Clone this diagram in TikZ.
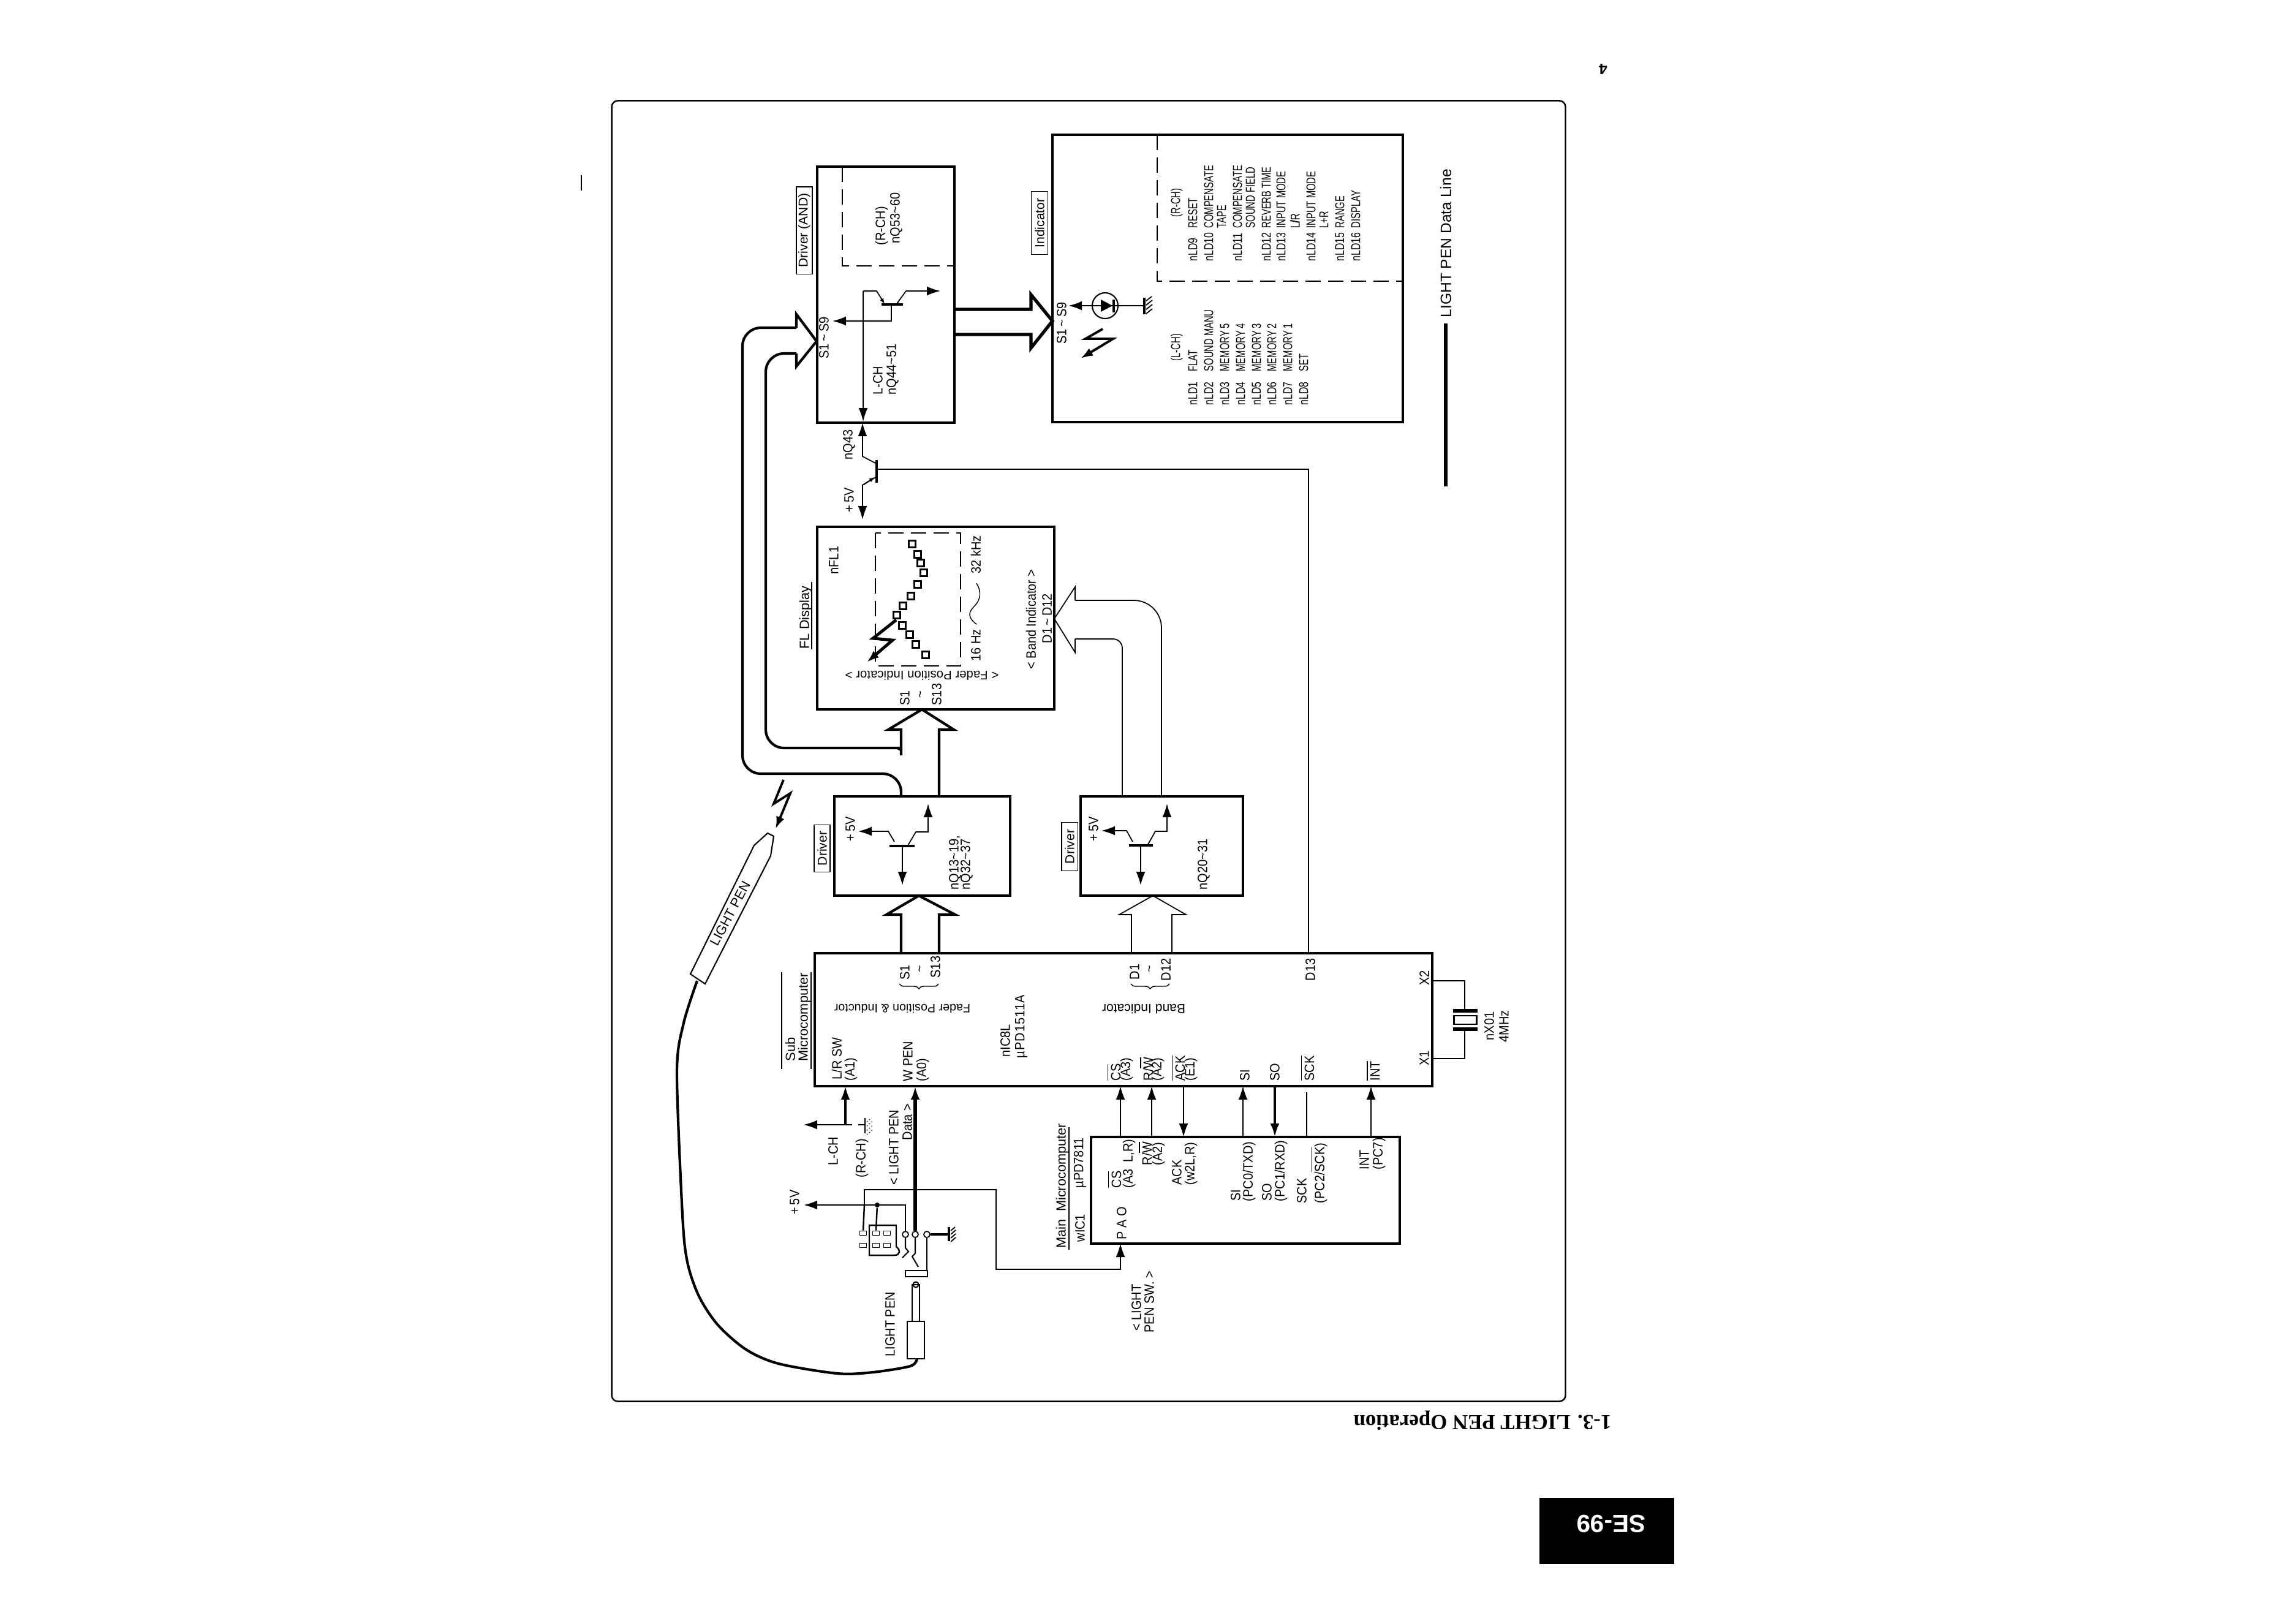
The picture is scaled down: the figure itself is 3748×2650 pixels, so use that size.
\documentclass[tikz,border=0pt]{standalone}
\usepackage{fontspec}
\setmainfont[FakeStretch=0.9]{Liberation Sans}
\usetikzlibrary{arrows.meta,decorations.pathreplacing}
\newfontfamily\titlefont{Liberation Serif}
\newfontfamily\widefont{Liberation Sans}
\newfontfamily\tablefont[FakeStretch=0.7]{Liberation Sans}
\newfontfamily\codefont[FakeStretch=0.75]{Liberation Sans}
\newcommand{\ovl}[1]{$\overline{\mbox{#1}}$}
\newcommand{\tld}{\textasciitilde}
\tikzset{
  lbl/.style={rotate=90,anchor=west,inner sep=0pt,font=\fontsize{6.3}{7}\selectfont},
  headlbl/.style={lbl,font=\widefont\fontsize{6.2}{7}\selectfont},
  tablbl/.style={lbl,font=\tablefont\fontsize{6}{7}\selectfont},
  codelbl/.style={lbl,font=\codefont\fontsize{6}{7}\selectfont},
  lblflip/.style={rotate=180,inner sep=0pt,font=\widefont\fontsize{5.8}{7}\selectfont},
  tag/.style={draw,line width=0.3pt,rotate=90,inner sep=0pt,outer sep=0pt,font=\widefont\fontsize{6}{7}\selectfont},
  box/.style={shape=rectangle,draw=black,line width=1.1pt,outer sep=0pt,inner sep=0pt},
  thin line/.style={line width=0.45pt},
  sig/.style={line width=0.5pt,-{Latex[length=0.22cm,width=0.15cm]}},
  sigbold/.style={line width=1pt,-{Latex[length=0.22cm,width=0.15cm]}},
  bolt/.style={line width=1.1pt,-{Latex[length=0.2cm,width=0.14cm]}},
  pipe/.style={line width=1.2pt,line join=miter,rounded corners=0.3cm},
  pipethin/.style={line width=0.5pt,rounded corners=0.3cm},
  dash box/.style={line width=0.55pt,dash pattern=on 0.25cm off 0.12cm},
  seg/.style={draw,line width=0.6pt,minimum size=0.11cm,inner sep=0pt},
  pad/.style={draw,line width=0.5pt,minimum width=0.11cm,minimum height=0.07cm,inner sep=0pt},
  contact/.style={draw,circle,line width=0.5pt,minimum size=0.1cm,inner sep=0pt},
}
\begin{document}
\begin{tikzpicture}[x=0.01cm,y=-0.01cm]
    \useasboundingbox (0,0) rectangle (3748,2650);

    \node[box,line width=0.7pt,minimum width=15.56cm,minimum height=21.22cm,rounded corners=0.1cm] (Frame) at (1777,1226) {};
    \node[box] (DriverAnd) at (1446,481) [minimum width=2.24cm,minimum height=4.18cm] {};
    \node[box] (Indicator) at (2004,454.5) [minimum width=5.72cm,minimum height=4.69cm] {};
    \node[box] (FLDisplay) at (1527.5,1009) [minimum width=3.87cm,minimum height=2.98cm] {};
    \node[box] (DriverFader) at (1505.5,1381) [minimum width=2.87cm,minimum height=1.62cm] {};
    \node[box] (DriverBand) at (1896.5,1381) [minimum width=2.65cm,minimum height=1.62cm] {};
    \node[box] (SubMicro) at (1834,1664.5) [minimum width=10.08cm,minimum height=2.17cm] {};
    \node[box] (MainMicro) at (2033,1943) [minimum width=5.04cm,minimum height=1.74cm] {};

    % tags beside the boxes
    \node[tag,minimum width=1.42cm,minimum height=0.26cm] (TagDriverAnd) at (1313,376) {Driver (AND)};
    \node[tag,minimum width=1.03cm,minimum height=0.27cm] (TagIndicator) at (1697,364) {Indicator};
    \node[tag,minimum width=0.77cm,minimum height=0.26cm] (TagDriverFader) at (1342,1385) {Driver};
    \node[tag,minimum width=0.79cm,minimum height=0.26cm] (TagDriverBand) at (1746,1382) {Driver};
    \node[headlbl] (TagFL) at (1315,1060) {FL Display};
    \draw[thin line] (1325,950) -- (1325,1060);
    \node[headlbl] (TagSub) at (1290,1733) {Sub};
    \node[headlbl] (TagSubB) at (1313,1733) {Microcomputer};
    \draw[thin line] (1276,1587) -- (1276,1745);
    \draw[thin line] (1324,1587) -- (1324,1745);
    \node[headlbl] (TagMain) at (1734,2038) {Main\ \ Microcomputer};
    \draw[thin line] (1745,1840) -- (1745,2040);

    % Driver (AND)
    \draw[dash box] (1375,272) -- (1375,434) -- (1558,434);
    \node[lbl] (RCHa) at (1439,401) {(R-CH)};
    \node[lbl] (nQ53) at (1463,398) {nQ53\tld 60};
    \node[lbl] (LCHa) at (1433,645) {L-CH};
    \node[lbl] (nQ44) at (1457,645) {nQ44\tld 51};
    \node[lbl] (S1S9a) at (1345,586) {S1\,\tld\,S9};
    \coordinate (BarL) at (1439,497);
    \coordinate (BarR) at (1474,497);
    \draw[line width=1.3pt] (BarL) -- (BarR);
    \draw[sig] (1409,475) -- (1409,688);
    \draw[sig,-{Latex[length=0.09cm,width=0.07cm]}] (1409,475) -- (1431,475) -- (1444,496);
    \draw[sig] (1463,497) -- (1479,475) -- (1535,475);
    \draw[sig] (1455,497) -- (1455,524) -- (1359,524);

    % nQ43
    \node[lbl] (nQ43) at (1386,751) {nQ43};
    \node[lbl] (PlusA) at (1386,837) {+\,5V};
    \coordinate (BaseT) at (1431,751);
    \coordinate (BaseB) at (1431,788);
    \coordinate (BaseM) at (1431,766);
    \draw[line width=1.1pt] (BaseT) -- (BaseB);
    \draw[sig] (1431,757) -- (1408,745) -- (1408,0 |- DriverAnd.south);
    \draw[sig] (1431,778) -- (1408,792) -- (1408,848);
    \draw[sig,-{Latex[length=0.09cm,width=0.07cm]}] (1408,792) -- (1428,779);
    \draw[line width=0.5pt] (2136,0 |- SubMicro.north) -- (2136,766) -- (BaseM);

    % Indicator
    \draw[dash box] (1889,220) -- (1889,459) -- (2290,459);
    \node[lbl] (S1S9b) at (1733,562) {S1\,\tld\,S9};
    \node[draw,circle,line width=0.6pt,minimum size=0.42cm,inner sep=0pt] (LedRing) at (1804,499) {};
    \coordinate (LedGnd) at (1868,499);
    \draw[sig,line width=0.8pt] (LedGnd) -- (1744,499);
    \fill (1797,489) -- (1816,499) -- (1797,509) -- cycle;
    \draw[line width=1pt] (1818,489) -- (1818,510);
    \draw[line width=1.1pt] (1868,486) -- (1868,513);
    \draw[line width=0.5pt] (1871,491) -- (1880,484) (1871,498) -- (1881,490) (1871,505) -- (1881,497) (1871,512) -- (1881,504);
    \draw[bolt] (1800,537) -- (1772,553) -- (1817,553) -- (1764,585);

    \node[tablbl] (LCHb) at (1921,590) {(L-CH)};
    \node[codelbl] (nLD1) at (1947,662) {nLD1};
    \node[codelbl] (nLD2) at (1973,662) {nLD2};
    \node[codelbl] (nLD3) at (1999,662) {nLD3};
    \node[codelbl] (nLD4) at (2025,662) {nLD4};
    \node[codelbl] (nLD5) at (2051,662) {nLD5};
    \node[codelbl] (nLD6) at (2076,662) {nLD6};
    \node[codelbl] (nLD7) at (2102,662) {nLD7};
    \node[codelbl] (nLD8) at (2128,662) {nLD8};
    \node[tablbl] (Flat) at (1947,607) {FLAT};
    \node[tablbl] (SoundManu) at (1973,607) {SOUND MANU};
    \node[tablbl] (MemFive) at (1999,607) {MEMORY 5};
    \node[tablbl] (MemFour) at (2025,607) {MEMORY 4};
    \node[tablbl] (MemThree) at (2051,607) {MEMORY 3};
    \node[tablbl] (MemTwo) at (2076,607) {MEMORY 2};
    \node[tablbl] (MemOne) at (2102,607) {MEMORY 1};
    \node[tablbl] (SetKey) at (2128,607) {SET};

    \node[tablbl] (RCHb) at (1921,355) {(R-CH)};
    \node[codelbl] (nLD9) at (1947,427) {nLD9};
    \node[tablbl] (Reset) at (1947,373) {RESET};
    \node[codelbl] (nLD10) at (1973,427) {nLD10};
    \node[tablbl] (CompTape) at (1973,373) {COMPENSATE};
    \node[tablbl] (Tape) at (1994,373) {TAPE};
    \node[codelbl] (nLD11) at (2020,427) {nLD11};
    \node[tablbl] (CompField) at (2020,373) {COMPENSATE};
    \node[tablbl] (SoundField) at (2041,373) {SOUND FIELD};
    \node[codelbl] (nLD12) at (2067,427) {nLD12};
    \node[tablbl] (Reverb) at (2067,373) {REVERB TIME};
    \node[codelbl] (nLD13) at (2091,427) {nLD13};
    \node[tablbl] (InputA) at (2091,373) {INPUT MODE};
    \node[tablbl] (LorR) at (2114,373) {L/\!/R};
    \node[codelbl] (nLD14) at (2140,427) {nLD14};
    \node[tablbl] (InputB) at (2140,373) {INPUT MODE};
    \node[tablbl] (LplusR) at (2161,373) {L+R};
    \node[codelbl] (nLD15) at (2187,427) {nLD15};
    \node[tablbl] (Range) at (2187,373) {RANGE};
    \node[codelbl] (nLD16) at (2213,427) {nLD16};
    \node[tablbl] (Display) at (2213,373) {DISPLAY};

    % data line legend
    \node[lbl,font=\widefont\fontsize{7}{8}\selectfont] (Legend) at (2360,519) {LIGHT PEN Data Line};
    \draw[line width=1.8pt] (Legend.west) ++(0,9) -- (2360,794);

    % big arrow into the indicator
    \draw[pipe,rounded corners=0pt,line width=1.5pt] (1558,505) -- (1683,505) -- (1683,481) -- (1718,524) -- (1683,568) -- (1683,546) -- (1558,546);

    % FL display
    \draw[dash box] (1429,870) rectangle (1568,1087);
    \node[lbl] (nFL1) at (1361,938) {nFL1};
    \node[lblflip] (FaderInd) at (1505,1103) {< Fader Position Indicator >};
    \node[lbl] (S1fl) at (1477,1152) {S1};
    \node[lbl] (S13fl) at (1529,1152) {S13};
    \node[lbl,anchor=center] (Tildefl) at (1505,1134) {\tld};
    \node[lbl] (Hz16) at (1593,1080) {16 Hz};
    \node[lbl] (Hz32) at (1593,937) {32 kHz};
    \draw[line width=0.4pt] (1594,1019) .. controls (1580,1008) and (1580,1000) .. (1590,990) .. controls (1602,978) and (1602,965) .. (1594,952);
    \node[lbl] (BandInd) at (1683,1093) {< Band Indicator >};
    \node[lbl] (D1D12fl) at (1709,1051) {D1\,\tld\,D12};
    \node[seg] (SegA) at (1511,1069) {};
    \node[seg] (SegB) at (1495,1052) {};
    \node[seg] (SegC) at (1485,1036) {};
    \node[seg] (SegD) at (1473,1021) {};
    \node[seg] (SegE) at (1464,1004) {};
    \node[seg] (SegF) at (1474,989) {};
    \node[seg] (SegG) at (1487,973) {};
    \node[seg] (SegH) at (1498,954) {};
    \node[seg] (SegI) at (1508,935) {};
    \node[seg] (SegJ) at (1503,919) {};
    \node[seg] (SegK) at (1498,905) {};
    \node[seg] (SegL) at (1489,888) {};
    \draw[bolt,line width=1.4pt] (1463,1012) -- (1425,1042) -- (1457,1045) -- (1415,1081);

    % hollow arrows between the stages
    \draw[pipe] (1300,535) -- (1212,535) -- (1212,1263) -- (1471,1263) -- (1471,0 |- DriverFader.north);
    \draw[pipe,rounded corners=0pt] (1300,535) -- (1300,513) -- (1333,557) -- (1300,598) -- (1300,577);
    \draw[pipe] (1300,577) -- (1250,577) -- (1250,1221) -- (1471,1221) [rounded corners=0pt] (1465,1221) -- (1471,1224) -- (1471,1233);
    \draw[pipe,rounded corners=0pt] (1471,1224) -- (1471,1191) -- (1450,1191) -- (1505,0 |- FLDisplay.south) -- (1557,1191) -- (1533,1191) -- (1533,0 |- DriverFader.north);
    \draw[pipe,rounded corners=0pt] (1471,0 |- SubMicro.north) -- (1471,1493) -- (1447,1493) -- (1500,0 |- DriverFader.south) -- (1559,1493) -- (1533,1493) -- (1533,0 |- SubMicro.north);
    \draw[pipethin,rounded corners=0pt] (1847,0 |- SubMicro.north) -- (1847,1493) -- (1827,1493) -- (1882,0 |- DriverBand.south) -- (1936,1493) -- (1913,1493) -- (1913,0 |- SubMicro.north);
    \draw[pipethin,rounded corners=0pt] (1721,1010) -- (1755,958) -- (1755,980);
    \draw[pipethin,rounded corners=0pt] (1721,1010) -- (1755,1065) -- (1755,1043);
    \draw[pipethin,rounded corners=0.45cm] (1755,980) -- (1896,980) -- (1896,0 |- DriverBand.north);
    \draw[pipethin,rounded corners=0.15cm] (1755,1043) -- (1832,1043) -- (1832,0 |- DriverBand.north);

    % driver, fader side
    \node[lbl] (PlusB) at (1388,1374) {+\,5V};
    \node[lbl] (nQ13) at (1559,1453) {nQ13\tld 19,};
    \node[lbl] (nQ32) at (1578,1453) {nQ32\tld 37};
    \draw[line width=1.3pt] (1452,1381) -- (1493,1381);
    \draw[sig] (1460,1374) -- (1450,1357) -- (1401,1357);
    \draw[sig] (1482,1380) -- (1495,1358) -- (1515,1358) -- (1515,1312);
    \draw[sig] (1473,1381) -- (1473,1445);

    % driver, band side
    \node[lbl] (PlusC) at (1785,1374) {+\,5V};
    \node[lbl] (nQ20) at (1965,1453) {nQ20\tld 31};
    \draw[line width=1.3pt] (1843,1380) -- (1882,1380);
    \draw[sig] (1849,1374) -- (1839,1356) -- (1798,1356);
    \draw[sig] (1873,1380) -- (1886,1357) -- (1905,1357) -- (1905,1312);
    \draw[sig] (1862,1380) -- (1862,1445);

    % light pen
    \draw[line width=0.6pt] (1127,1590) -- (1231,1380) -- (1253,1360) -- (1263,1365) -- (1258,1397) -- (1151,1606) -- cycle;
    \node[rotate=62,inner sep=0pt,font=\widefont\fontsize{6.2}{7}\selectfont] (PenName) at (1192,1491) {LIGHT PEN};
    \coordinate (PenEnd) at (1138,1601);
    \draw[bolt] (1279,1273) -- (1263,1312) -- (1290,1295) -- (1266,1353);
    \coordinate (PlugEnd) at (1497,2218);
    \draw[line width=1.2pt] plot[smooth] coordinates {(PenEnd) (1116,1670) (1105,1750) (1114,1983) (1122,2060) (1141,2116) (1172,2163) (1218,2203) (1271,2226) (1367,2242) (1425,2240) (1486,2230) (PlugEnd)};
    \node[draw,line width=0.6pt,minimum width=0.28cm,minimum height=0.61cm,inner sep=0pt] (PlugBody) at (1495,2187.5) {};
    \node[draw,line width=0.5pt,minimum width=0.12cm,minimum height=0.6cm,inner sep=0pt] (PlugShaft) at (1495,2127) {};
    \node[draw,circle,line width=0.6pt,minimum size=0.09cm,inner sep=0pt] (PlugTip) at (1495,2097) {};
    \node[lbl] (PenPlug) at (1453,2215) {LIGHT PEN};

    % jack and switch
    \node[draw,line width=0.7pt,minimum width=0.36cm,minimum height=0.1cm,inner sep=0pt] (Jack) at (1496,2079) {};
    \node[contact] (ConA) at (1478,2015) {};
    \node[contact] (ConB) at (1494,2015) {};
    \node[contact] (ConC) at (1513,2015) {};
    \draw[line width=0.6pt] (ConA.south) -- (1478,2037) -- (1483,2043) -- (1473,2053);
    \draw[line width=0.6pt] (ConB.south) -- (1494,2046) -- (1489,2051) -- (1499,2068);
    \draw[line width=0.6pt] (ConC.south) -- (1513,0 |- Jack.north);
    \draw[line width=1pt] (ConC.east) -- (1548,2015);
    \draw[line width=1.1pt] (1549,2003) -- (1549,2026);
    \draw[line width=0.5pt] (1552,2009) -- (1559,2003) (1552,2015) -- (1560,2008) (1552,2021) -- (1560,2014) (1552,2027) -- (1560,2020);
    \draw[line width=0.7pt] (1419,2000) -- (1463,2000) -- (1463,2035) .. controls (1470,2040) and (1470,2049) .. (1460,2049) -- (1419,2049) -- cycle;
    \node[pad] (PadA) at (1409,2013) {};
    \node[pad] (PadB) at (1409,2033) {};
    \node[pad] (PadC) at (1430,2013) {};
    \node[pad] (PadD) at (1430,2033) {};
    \node[pad] (PadE) at (1448,2013) {};
    \node[pad] (PadF) at (1448,2033) {};
    \node[fill,circle,minimum size=0.08cm,inner sep=0pt] (SwDot) at (1432,1967) {};
    \coordinate (PlusTip) at (1312,1967);
    \node[lbl] (PlusD) at (1297,1983) {+\,5V};
    \draw[sig,line width=0.8pt] (ConA.north) -- (1478,1967) -- (PlusTip);
    \draw[line width=0.7pt] (SwDot) -- (PadC.north);
    \draw[line width=0.7pt] (PadA.north) -- (1411,1967);
    \draw[sig] (1411,1967) -- (1411,1942) -- (1626,1942) -- (1626,2072) -- (1829,2072) -- (1829,0 |- MainMicro.south);

    % lines into the sub microcomputer
    \draw[sigbold,line width=1.5pt] (ConB.north) -- (1494,0 |- SubMicro.south);
    \coordinate (LCHnode) at (1380,1836);
    \coordinate (LCHtip) at (1312,1836);
    \draw[sigbold] (LCHnode) -- (LCHnode |- SubMicro.south);
    \draw[sig] (LCHnode) -- (LCHtip);
    \draw[line width=0.7pt,dashed] (LCHnode) -- (1411,1836);
    \draw[line width=0.8pt] (1412,1825) -- (1412,1850);
    \draw[line width=0.4pt,densely dotted] (1415,1831) -- (1423,1825) (1415,1838) -- (1425,1830) (1415,1845) -- (1425,1837) (1415,1852) -- (1425,1844);
    \node[lbl] (LCHc) at (1360,1903) {L-CH};
    \node[lbl] (RCHc) at (1407,1923) {(R-CH)};
    \node[lbl] (PenData) at (1459,1935) {< LIGHT PEN};
    \node[lbl] (PenDataB) at (1481,1862) {Data >};

    % sub microcomputer
    \node[lbl] (S1sub) at (1477,1600) {S1};
    \node[lbl] (S13sub) at (1527,1597) {S13};
    \node[lbl,anchor=center] (Tildesub) at (1504,1582) {\tld};
    \draw[line width=0.4pt,decorate,decoration={brace,amplitude=0.08cm}] (1532,1606) -- (1468,1606);
    \node[lbl] (D1sub) at (1852,1600) {D1};
    \node[lbl] (D12sub) at (1903,1602) {D12};
    \node[lbl,anchor=center] (Tildeband) at (1879,1582) {\tld};
    \draw[line width=0.4pt,decorate,decoration={brace,amplitude=0.08cm}] (1909,1606) -- (1846,1606);
    \node[lbl] (D13sub) at (2139,1602) {D13};
    \node[lblflip,font=\widefont\fontsize{5.6}{7}\selectfont] (FaderSub) at (1473,1647) {Fader Position \& Inductor};
    \node[lblflip,font=\widefont\fontsize{6}{7}\selectfont] (BandSub) at (1867,1647) {Band Indicator};
    \node[lbl] (nIC8L) at (1641,1726) {nIC8L};
    \node[lbl,font=\addfontfeature{LetterSpace=5}\fontsize{6.3}{7}\selectfont] (PD1511) at (1667,1728) {µPD1511A};
    \node[lbl] (LRSW) at (1366,1763) {L/R SW};
    \node[lbl] (AOne) at (1389,1765) {(A1)};
    \node[lbl] (WPen) at (1482,1766) {W PEN};
    \node[lbl] (AZero) at (1506,1766) {(A0)};
    \node[lbl] (CSsub) at (1818,1765) {\ovl{CS}};
    \node[lbl] (AThree) at (1839,1765) {(A3)};
    \node[lbl] (RWsub) at (1871,1765) {R/\ovl{W}};
    \node[lbl] (ATwo) at (1890,1765) {(A2)};
    \node[lbl] (ACKsub) at (1923,1765) {\ovl{ACK}};
    \node[lbl] (EOne) at (1944,1765) {(E1)};
    \node[lbl] (SIsub) at (2032,1765) {SI};
    \node[lbl] (SOsub) at (2081,1765) {SO};
    \node[lbl] (SCKsub) at (2134,1765) {\ovl{SCK}};
    \node[lbl] (INTsub) at (2241,1765) {\ovl{INT}};
    \node[lbl] (XOne) at (2325,1740) {X1};
    \node[lbl] (XTwo) at (2325,1609) {X2};

    % crystal
    \node[draw,line width=0.8pt,minimum width=0.37cm,minimum height=0.14cm,inner sep=0pt] (Crystal) at (2392,1665) {};
    \draw[line width=0.6pt] (2338,1601) -- (2391,1601) -- (2391,1650);
    \draw[line width=0.6pt] (2338,1728) -- (2391,1728) -- (2391,1680);
    \draw[line width=1.6pt] (2372,1650) -- (2412,1650);
    \draw[line width=1.6pt] (2372,1680) -- (2412,1680);
    \node[lbl] (nX01) at (2431,1699) {nX01};
    \node[lbl] (FourMHz) at (2455,1702) {4MHz};

    % bus between the microcomputers
    \coordinate (BusCS) at (1829,1856);
    \coordinate (BusRW) at (1880,1856);
    \coordinate (BusACK) at (1932,1773);
    \coordinate (BusSI) at (2029,1856);
    \coordinate (BusSO) at (2081,1773);
    \coordinate (BusSCK) at (2133,1856);
    \coordinate (BusINT) at (2238,1856);
    \draw[sig] (BusCS) -- (BusCS |- SubMicro.south);
    \draw[sig,line width=0.7pt] (BusRW) -- (BusRW |- SubMicro.south);
    \draw[sig,line width=0.7pt] (BusACK) -- (BusACK |- MainMicro.north);
    \draw[sig] (BusSI) -- (BusSI |- SubMicro.south);
    \draw[sigbold,line width=1.2pt] (BusSO) -- (BusSO |- MainMicro.north);
    \draw[line width=0.6pt] (BusSCK) -- (2133,1783);
    \draw[sig] (BusINT) -- (BusINT |- SubMicro.south);
    \node[lbl] (wIC1) at (1763,2028) {wIC1};
    \node[lbl] (PD7811) at (1763,1940) {µPD7811};
    \node[lbl] (PAO) at (1831,2024) {P A O};
    \node[lbl] (CSmain) at (1819,1940) {\ovl{CS}};
    \node[lbl] (ALR) at (1843,1940) {(A3\ \ L,R)};
    \node[lbl] (RWmain) at (1869,1903) {R/\ovl{W}};
    \node[lbl] (ATwoM) at (1891,1903) {(A2)};
    \node[lbl] (ACKmain) at (1921,1935) {ACK};
    \node[lbl] (WTwo) at (1944,1935) {(w2L,R)};
    \node[lbl] (SImain) at (2017,1961) {SI};
    \node[lbl] (PCZero) at (2039,1962) {(PC0/TXD)};
    \node[lbl] (SOmain) at (2068,1961) {SO};
    \node[lbl] (PCOne) at (2091,1962) {(PC1/RXD)};
    \node[lbl] (SCKmain) at (2125,1965) {SCK};
    \node[lbl] (PCTwo) at (2153,1965) {(PC2/\ovl{SCK})};
    \node[lbl] (INTmain) at (2227,1910) {INT};
    \node[lbl] (PCSeven) at (2251,1910) {(PC7)};
    \node[lbl] (SwitchA) at (1855,2173) {< LIGHT};
    \node[lbl] (SwitchB) at (1876,2176) {PEN SW. >};

    % page furniture
    \draw[line width=0.8pt] (949,286) -- (949,311);
    \node[rotate=180,inner sep=0pt,font=\titlefont\bfseries\fontsize{9.9}{11}\selectfont] (Title) at (2420,2319) {1-3. LIGHT PEN Operation};
    \node[fill=black,minimum width=2.2cm,minimum height=1.08cm,inner sep=0pt] (PageTab) at (2623,2499) {};
    \node[rotate=180,inner sep=0pt,text=white,font=\widefont\bfseries\fontsize{11.5}{13}\selectfont] (PageName) at (2630,2487) {SE-99};
    \node[rotate=180,inner sep=0pt,font=\widefont\bfseries\fontsize{7}{8}\selectfont] (PageFour) at (2617,113) {4};
\end{tikzpicture}
\end{document}
